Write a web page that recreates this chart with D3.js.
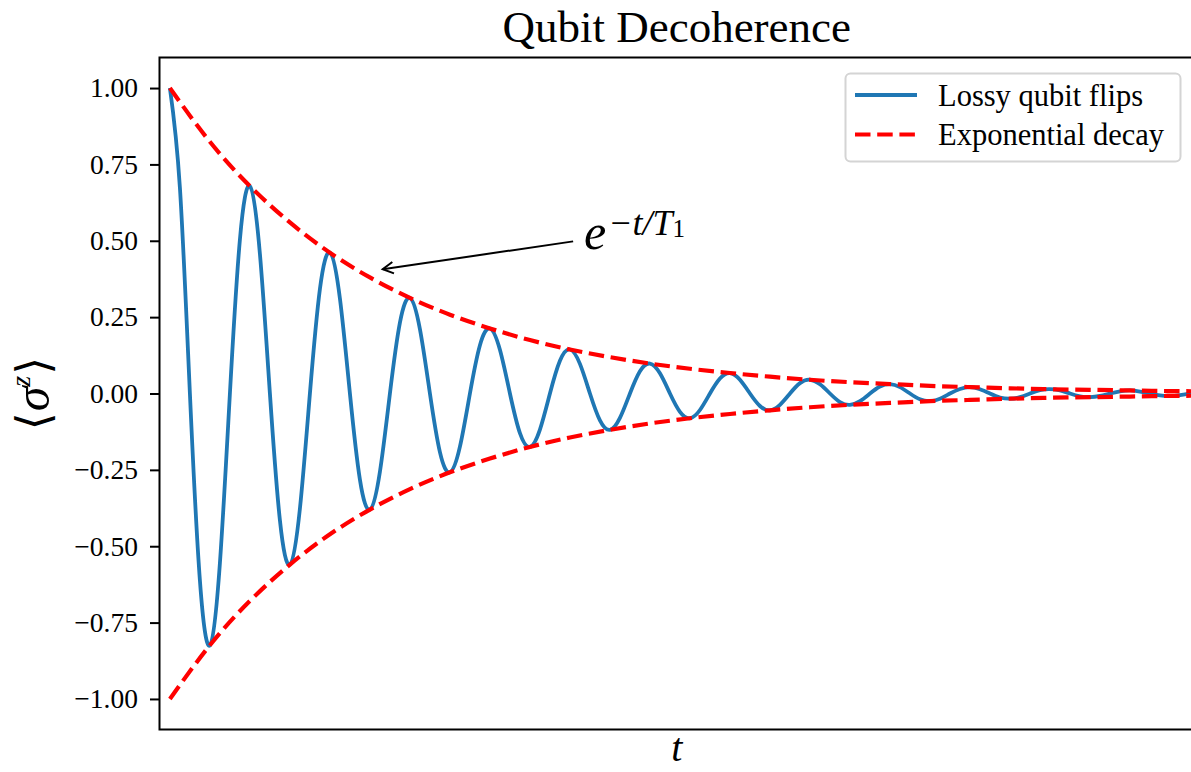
<!DOCTYPE html>
<html>
<head>
<meta charset="utf-8">
<script src="https://cdn.jsdelivr.net/npm/d3@7"></script>
<style>
  html, body { margin: 0; padding: 0; background: #ffffff; }
  svg { display: block; }
  text { font-family: "Liberation Serif", "Times New Roman", serif; fill: #000; }
</style>
</head>
<body>
<svg id="chart" width="1191" height="772"></svg>
<script>
// Oscillation of <sigma^z>, sampled every eighth of a flip period
const sampleStep = 0.125;
const flipValues = [
  1.000, 0.674, 0, -0.612, -0.824, -0.555, 0, 0.504,
  0.679, 0.457, 0, -0.415, -0.560, -0.377, 0, 0.342,
  0.461, 0.311, 0, -0.282, -0.380, -0.256, 0, 0.232,
  0.313, 0.211, 0, -0.192, -0.258, -0.174, 0, 0.158,
  0.213, 0.143, 0, -0.130, -0.175, -0.118, 0, 0.107,
  0.144, 0.097, 0, -0.088, -0.119, -0.080, 0, 0.073,
  0.098, 0.066, 0, -0.060, -0.081, -0.054, 0, 0.049,
  0.067, 0.045, 0, -0.041, -0.055, -0.037, 0, 0.034,
  0.045, 0.030, 0, -0.028, -0.037, -0.025, 0, 0.023,
  0.031, 0.021, 0, -0.019, -0.025, -0.017, 0, 0.015,
  0.021, 0.014, 0, -0.013, -0.017, -0.012, 0, 0.011,
  0.014, 0.010, 0, -0.009, -0.012, -0.008, 0, 0.007,
  0.010, 0.006, 0, -0.006, -0.008, -0.005, 0, 0.005
];

// Exponential envelope e^{-t/T1}, sampled every half period
const envelopeStep = 0.5;
const envelopeValues = [
  1.000, 0.824, 0.679, 0.560, 0.461, 0.380, 0.313, 0.258, 0.213,
  0.175, 0.144, 0.119, 0.098, 0.081, 0.067, 0.055, 0.045, 0.037,
  0.031, 0.025, 0.021, 0.017, 0.014, 0.012, 0.010, 0.008, 0.007
];

const yTickValues = [-1.00, -0.75, -0.50, -0.25, 0.00, 0.25, 0.50, 0.75, 1.00];
const yTickLabels = ["\u22121.00", "\u22120.75", "\u22120.50", "\u22120.25", "0.00", "0.25", "0.50", "0.75", "1.00"];
const seriesNames = ["Lossy qubit flips", "Exponential decay"];
const titleText = "Qubit Decoherence";

const blue = "#1f77b4";
const red = "#ff0000";

// Plot frame
const plot = { left: 159.5, right: 1194, top: 57.5, bottom: 729.5 };
const x = d3.scaleLinear().domain([-0.13, 12.8]).range([plot.left, plot.right]);
const y = d3.scaleLinear().domain([-1.1, 1.1]).range([plot.bottom, plot.top]);

const svg = d3.select("#chart");

svg.append("defs").append("clipPath").attr("id", "plot-clip")
  .append("rect")
  .attr("x", plot.left).attr("y", plot.top)
  .attr("width", plot.right - plot.left).attr("height", plot.bottom - plot.top);

const flipPoints = flipValues.map((z, i) => ({ t: i * sampleStep, z }));
const upperEnv = envelopeValues.map((z, i) => ({ t: i * envelopeStep, z }));
const lowerEnv = envelopeValues.map((z, i) => ({ t: i * envelopeStep, z: -z }));

const line = d3.line().x(d => x(d.t)).y(d => y(d.z)).curve(d3.curveNatural);

const marks = svg.append("g").attr("clip-path", "url(#plot-clip)");

marks.append("path")
  .datum(flipPoints)
  .attr("d", line)
  .attr("fill", "none")
  .attr("stroke", blue)
  .attr("stroke-width", 3.8)
  .attr("stroke-linejoin", "round");

const dash = "15.5 6.7";
[upperEnv, lowerEnv].forEach(env => {
  marks.append("path")
    .datum(env)
    .attr("d", line)
    .attr("fill", "none")
    .attr("stroke", red)
    .attr("stroke-width", 4.2)
    .attr("stroke-dasharray", dash);
});

// Y axis
const yAxis = d3.axisLeft(y)
  .tickValues(yTickValues)
  .tickFormat((d, i) => yTickLabels[i])
  .tickSize(9.5)
  .tickPadding(12);

const gy = svg.append("g")
  .attr("transform", `translate(${plot.left},0)`)
  .call(yAxis);
gy.select(".domain").remove();
gy.selectAll(".tick line").attr("stroke", "#000").attr("stroke-width", 2);
gy.selectAll(".tick text")
  .attr("font-family", "'Liberation Serif', serif")
  .attr("font-size", 27.5)
  .attr("fill", "#000");

// Spines (left, top, bottom)
const spine = svg.append("g").attr("stroke", "#000").attr("stroke-width", 2).attr("fill", "none");
spine.append("path")
  .attr("d", `M${plot.right},${plot.top}H${plot.left}V${plot.bottom}H${plot.right}`)
  .attr("stroke-linecap", "square");

// Title
svg.append("text")
  .attr("x", (plot.left + plot.right) / 2)
  .attr("y", 42)
  .attr("text-anchor", "middle")
  .attr("font-size", 45)
  .text(titleText);

// X label
svg.append("text")
  .attr("x", (plot.left + plot.right) / 2)
  .attr("y", 761)
  .attr("text-anchor", "middle")
  .attr("font-size", 40)
  .attr("font-style", "italic")
  .text("t");

// Y label <sigma^z>
const ylab = svg.append("text")
  .attr("transform", `translate(49,${y(0)}) rotate(-90)`)
  .attr("text-anchor", "middle")
  .attr("font-size", 46);
ylab.append("tspan").attr("font-family", "'DejaVu Serif', serif").attr("font-weight", 200).text("\u27E8");
ylab.append("tspan").attr("font-style", "italic").attr("font-size", 50).attr("dx", 1).text("\u03C3");
ylab.append("tspan").attr("font-style", "italic").attr("font-size", 28).attr("dy", -19).text("z");
ylab.append("tspan").attr("font-family", "'DejaVu Serif', serif").attr("font-weight", 200).attr("dy", 19).attr("dx", 1).text("\u27E9");

// Annotation pointing at the envelope
const annotText = { t: 5.175, z: 0.472 };
const arrowFrom = { t: 5.04, z: 0.498 };
const arrowTip = { t: 2.66, z: 0.407 };

const ann = svg.append("text")
  .attr("x", x(annotText.t))
  .attr("y", y(annotText.z))
  .attr("font-size", 50)
  .attr("font-style", "italic");
ann.append("tspan").text("e");
ann.append("tspan").attr("font-size", 36).attr("dy", -14).attr("dx", 2).text("\u2212");
ann.append("tspan").attr("font-size", 36).attr("font-style", "italic").text("t/T");
ann.append("tspan").attr("font-size", 25).attr("font-style", "normal").attr("dy", 2).text("1");

const ax0 = x(arrowFrom.t), ay0 = y(arrowFrom.z);
const ax1 = x(arrowTip.t), ay1 = y(arrowTip.z);
const ang = Math.atan2(ay1 - ay0, ax1 - ax0);
const headLen = 12, headAng = 0.5;
const arrow = svg.append("g").attr("stroke", "#000").attr("stroke-width", 2).attr("fill", "none");
arrow.append("line").attr("x1", ax0).attr("y1", ay0).attr("x2", ax1).attr("y2", ay1);
arrow.append("path")
  .attr("stroke-linejoin", "miter")
  .attr("d", `M${ax1 - headLen * Math.cos(ang - headAng)},${ay1 - headLen * Math.sin(ang - headAng)}` +
             `L${ax1},${ay1}` +
             `L${ax1 - headLen * Math.cos(ang + headAng)},${ay1 - headLen * Math.sin(ang + headAng)}`);

// Legend
const legend = svg.append("g");
legend.append("rect")
  .attr("x", 845.5).attr("y", 73.5)
  .attr("width", 335).attr("height", 88)
  .attr("rx", 5).attr("ry", 5)
  .attr("fill", "#ffffff")
  .attr("fill-opacity", 0.8)
  .attr("stroke", "#d4d4d4")
  .attr("stroke-width", 2);

const legendRows = [
  { name: seriesNames[0], color: blue, width: 3.8, dash: null, y: 95 },
  { name: seriesNames[1], color: red, width: 4.2, dash: dash, y: 134.5 }
];
legendRows.forEach(r => {
  legend.append("line")
    .attr("x1", 855).attr("x2", 917)
    .attr("y1", r.y).attr("y2", r.y)
    .attr("stroke", r.color)
    .attr("stroke-width", r.width)
    .attr("stroke-dasharray", r.dash);
  legend.append("text")
    .attr("x", 938).attr("y", r.y + 10.5)
    .attr("font-size", 30.5)
    .text(r.name);
});
</script>
</body>
</html>
